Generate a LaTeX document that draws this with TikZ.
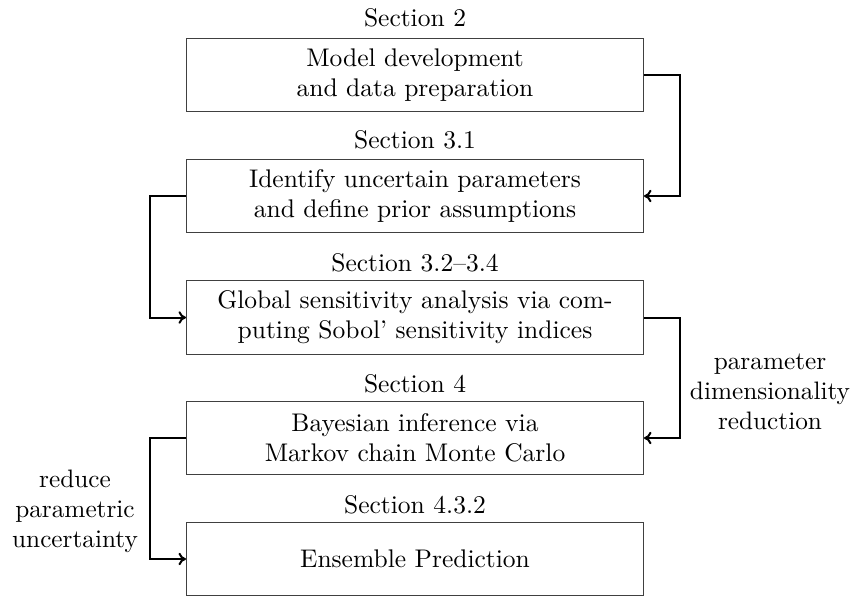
\documentclass[tikz,border=0pt]{standalone}
\usetikzlibrary{arrows.meta}
\begin{document}
\begin{tikzpicture}[x=0.4pt,y=-0.4pt,
  box/.style={draw=black!75,line width=0.4pt,minimum width=182.8pt,minimum height=29.4pt,align=center,inner sep=0pt,font=\fontsize{10.2}{12}\selectfont},
  sect/.style={font=\fontsize{10.2}{12}\selectfont,inner sep=0pt},
  lab/.style={align=center,font=\fontsize{10.1}{12}\selectfont,inner sep=0pt},
  conn/.style={line width=0.8pt,-{To[length=3pt,width=5pt]}}]
\useasboundingbox (0,0) rectangle (860,596);
\node[box] (b1) at (415,75) {Model development\\and data preparation};
\node[box] (b2) at (415,196) {Identify uncertain parameters\\and define prior assumptions};
\node[box] (b3) at (415,317.5) {Global sensitivity analysis via com-\\puting Sobol' sensitivity indices};
\node[box] (b4) at (415,438) {Bayesian inference via\\Markov chain Monte Carlo};
\node[box] (b5) at (415,559) {Ensemble Prediction};
\node[sect] (s1) at (415,18) {Section 2};
\node[sect] (s2) at (415,140) {Section 3.1};
\node[sect] (s3) at (415,263) {Section 3.2--3.4};
\node[sect] (s4) at (415,384) {Section 4};
\node[sect] (s5) at (415,505) {Section 4.3.2};
\draw[conn] (b1.east) -- ++(36,0) |- (b2.east);
\draw[conn] (b2.west) -- ++(-36,0) |- (b3.west);
\draw[conn] (b3.east) -- ++(36,0) |- (b4.east);
\draw[conn] (b4.west) -- ++(-36,0) |- (b5.west);
\node[lab] (l1) at (770,392) {parameter\\dimensionality\\reduction};
\node[lab] (l2) at (75,511) {reduce\\parametric\\uncertainty};
\end{tikzpicture}
\end{document}
